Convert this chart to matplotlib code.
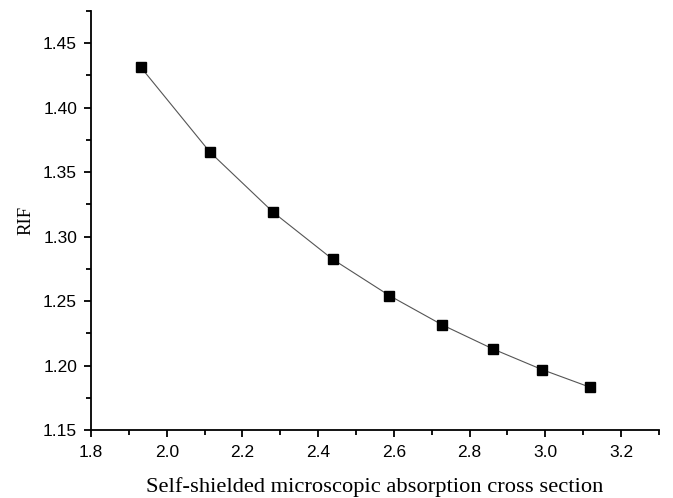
import matplotlib
matplotlib.use('Agg')
import matplotlib.pyplot as plt
from matplotlib.ticker import MultipleLocator

# data
sigma = [1.931, 2.114, 2.282, 2.438, 2.588, 2.728, 2.863, 2.992, 3.118]
rif = [1.4316, 1.3656, 1.3187, 1.2825, 1.2543, 1.2315, 1.2127, 1.1968, 1.1832]

fig = plt.figure(figsize=(6.73, 4.98), dpi=100)
ax = fig.add_axes([0.1352, 0.1365, 0.979 - 0.1352, 0.978 - 0.1365])

ax.plot(sigma, rif, color='#555555', lw=0.8, marker='s', ms=7.5,
        mfc='black', mec='black')

ax.set_xlim(1.8, 3.3)
ax.set_ylim(1.15, 1.475)
ax.xaxis.set_major_locator(MultipleLocator(0.2))
ax.xaxis.set_minor_locator(MultipleLocator(0.1))
ax.yaxis.set_major_locator(MultipleLocator(0.05))
ax.yaxis.set_minor_locator(MultipleLocator(0.025))
ax.xaxis.set_major_formatter(plt.FormatStrFormatter('%.1f'))
ax.yaxis.set_major_formatter(plt.FormatStrFormatter('%.2f'))

for s in ['top', 'right']:
    ax.spines[s].set_visible(False)
for s in ['left', 'bottom']:
    ax.spines[s].set_linewidth(1.3)

ax.tick_params(which='major', direction='out', length=5, width=1.3,
               labelsize=12.5, labelfontfamily='Liberation Sans')
ax.tick_params(axis='x', which='major', pad=6)
ax.tick_params(axis='y', which='major', pad=5)
ax.tick_params(which='minor', direction='out', length=3.5, width=1.3)

ax.set_xlabel('Self-shielded microscopic absorption cross section',
              family='Liberation Serif', fontsize=16.2, labelpad=12)
ax.set_ylabel('RIF', family='Liberation Serif', fontsize=13.5, labelpad=6)

fig.savefig('out.png', dpi=100, facecolor='white')
